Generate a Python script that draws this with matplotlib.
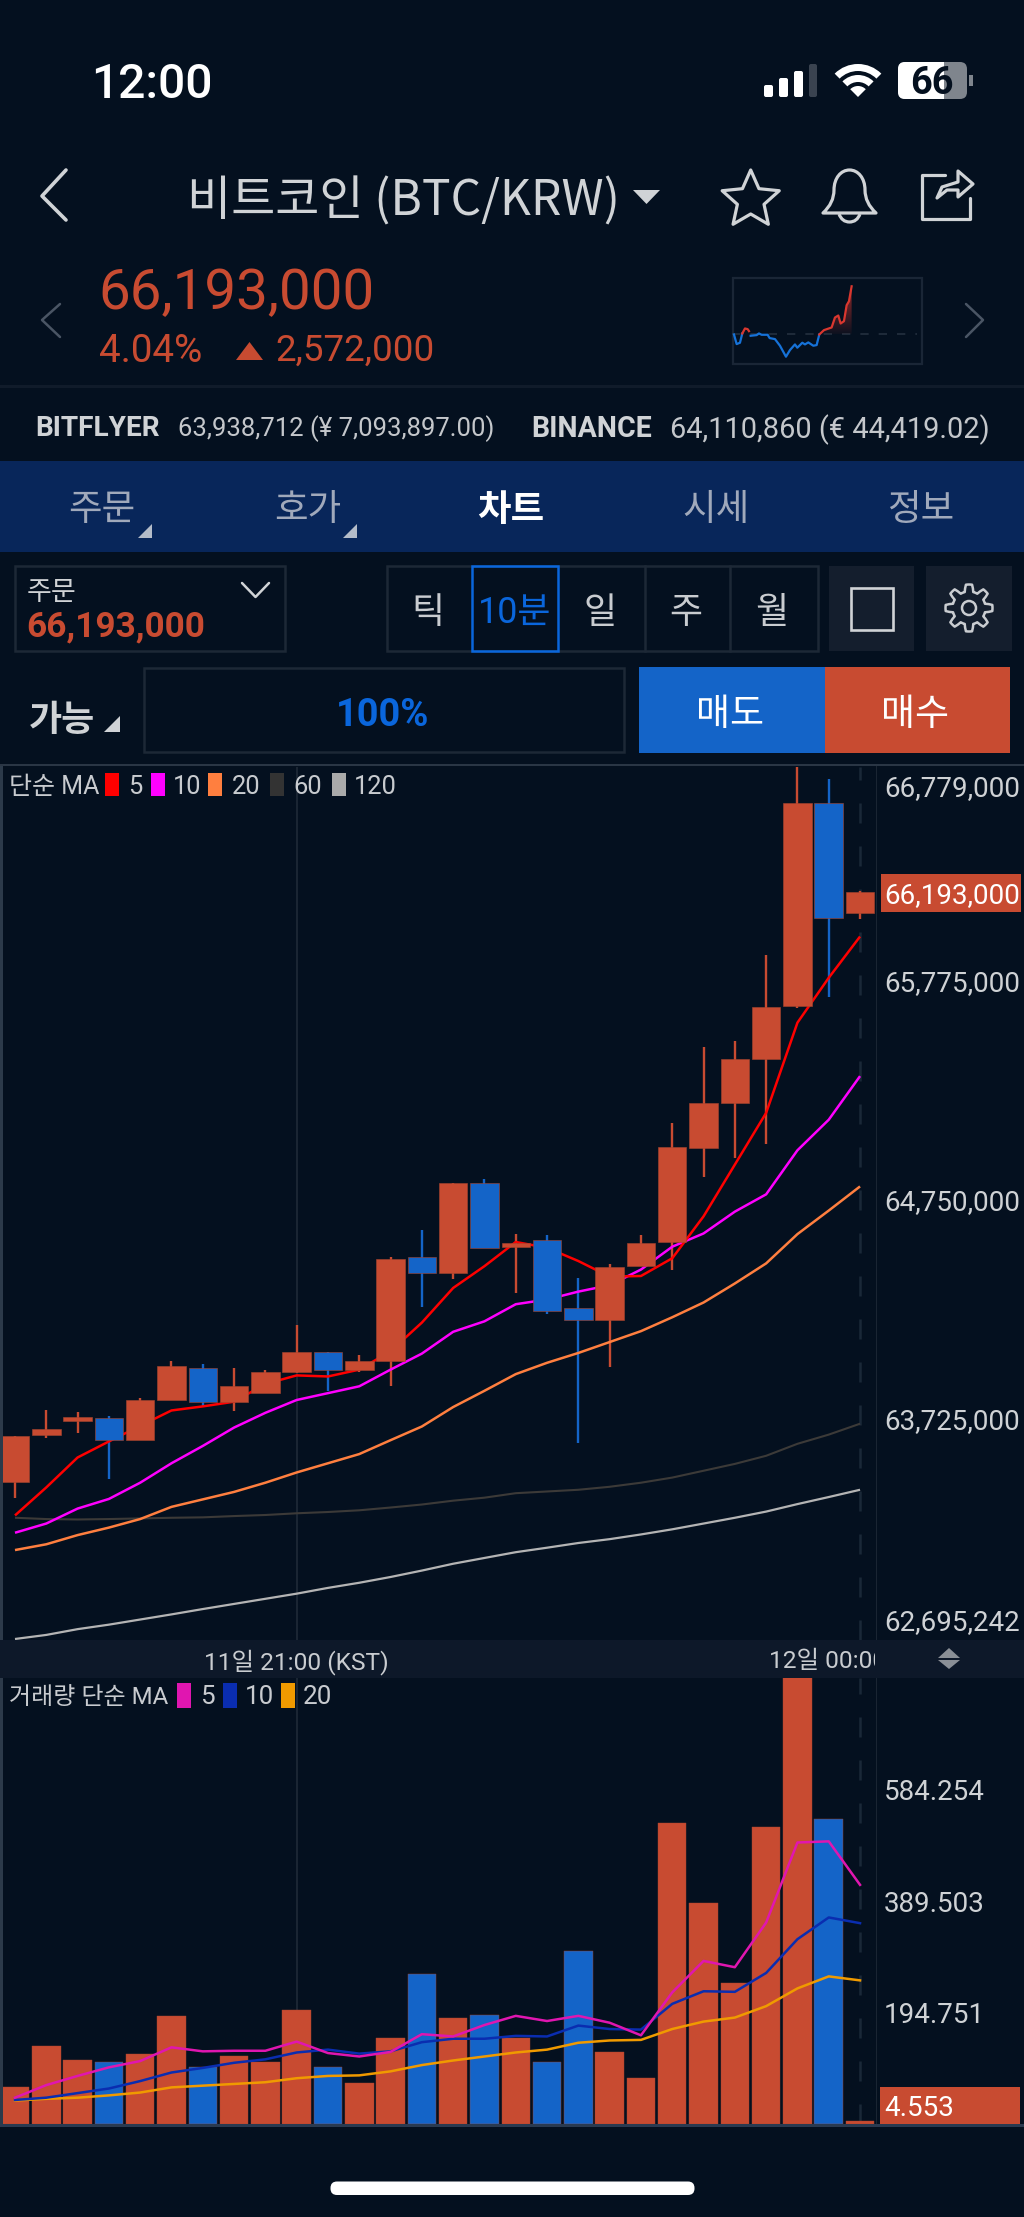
import numpy as np
import matplotlib
matplotlib.use("Agg")
import matplotlib.pyplot as plt
from matplotlib.patches import Rectangle, Polygon, Circle, Wedge, FancyBboxPatch, PathPatch
from matplotlib.path import Path
from matplotlib.transforms import Bbox

W, H = 1024, 2217
BG = "#04101f"
RED = "#c84b31"
BLUE = "#1464c8"
FONT = ["Roboto", "Noto Sans CJK KR", "DejaVu Sans"]
KFONT = ["Noto Sans CJK KR", "DejaVu Sans"]

# prices in thousands of won, one entry per 10 minute candle
opens = [63436, 63654, 63721, 63734, 63632, 63820, 63968, 63807, 63853, 63949,
         64043, 63960, 64000, 64487, 64414, 64833, 64532, 64565, 64248, 64194,
         64444, 64557, 64995, 65207, 65414, 65661, 66612, 66094]
closes = [63648, 63681, 63737, 63632, 63818, 63979, 63807, 63882, 63947, 64043,
          63960, 64000, 64479, 64414, 64833, 64530, 64554, 64234, 64194, 64441,
          64554, 65000, 65207, 65411, 65658, 66612, 66072, 66193]
highs = [63648, 63772, 63764, 63742, 63826, 64000, 63987, 63968, 63960, 64170,
         64043, 64027, 64489, 64613, 64833, 64852, 64594, 64591, 64390, 64454,
         64589, 65113, 65470, 65497, 65900, 66900, 66722, 66201]
lows = [63361, 63638, 63664, 63449, 63632, 63820, 63791, 63767, 63853, 63944,
        63858, 63949, 63885, 64253, 64382, 64530, 64317, 64221, 63619, 63971,
        64444, 64428, 64863, 64952, 65016, 65653, 65701, 66069]

ma5 = [63278, 63409, 63549, 63624, 63697, 63769, 63788, 63810, 63893, 63933,
       63928, 63960, 64046, 64180, 64342, 64444, 64557, 64530, 64468, 64395,
       64398, 64481, 64677, 64919, 65161, 65583, 65793, 65986]
ma10 = [63197, 63240, 63310, 63355, 63431, 63522, 63603, 63689, 63758, 63818,
        63850, 63882, 63960, 64035, 64137, 64186, 64266, 64288, 64325, 64355,
        64428, 64535, 64597, 64699, 64780, 64986, 65129, 65333]
ma20 = [63116, 63143, 63186, 63221, 63261, 63318, 63353, 63388, 63431, 63479,
        63522, 63565, 63630, 63694, 63785, 63861, 63939, 63992, 64038, 64089,
        64140, 64205, 64274, 64363, 64457, 64594, 64704, 64817]
ma60 = [63267, 63261, 63259, 63261, 63264, 63267, 63269, 63275, 63280, 63288,
        63294, 63302, 63315, 63329, 63347, 63361, 63382, 63390, 63398, 63412,
        63431, 63455, 63487, 63519, 63557, 63613, 63656, 63707]
ma120 = [62700, 62719, 62746, 62767, 62791, 62815, 62840, 62864, 62888, 62912,
         62939, 62963, 62990, 63020, 63052, 63079, 63106, 63127, 63149, 63167,
         63189, 63213, 63240, 63267, 63296, 63331, 63364, 63398]

volumes = [64, 137, 111, 108, 122, 189, 100, 118, 108, 199, 99, 71, 151, 262,
           186, 190, 150, 109, 303, 125, 81, 526, 387, 247, 519, 800, 533, 4.553]
vol_ma5 = [46, 68, 84, 99, 110, 134, 127, 128, 128, 144, 124, 118, 126, 157,
           153, 173, 189, 180, 189, 177, 155, 230, 285, 274, 352, 492, 494, 418]
vol_ma10 = [42, 46, 54, 62, 75, 90, 98, 107, 113, 125, 130, 123, 127, 143,
            149, 149, 154, 153, 172, 166, 165, 210, 232, 231, 264, 323, 361, 351]
vol_ma20 = [41, 44, 46, 50, 55, 64, 67, 70, 73, 80, 84, 85, 92, 103,
            111, 118, 125, 130, 142, 146, 147, 166, 179, 186, 206, 237, 258, 251]

price_ticks = [66779, 65775, 64750, 63725, 62695.242]
price_tick_labels = ["66,779,000", "65,775,000", "64,750,000", "63,725,000", "62,695,242"]
vol_ticks = [584.254, 389.503, 194.751]
vol_tick_labels = ["584.254", "389.503", "194.751"]

# small overview line, change against the previous close
mini_t = [27, 35, 45, 52, 60, 68, 72, 77, 95, 102, 110, 128, 134, 150, 165, 183, 195,
          210, 217, 232, 240, 250, 265, 275, 283, 297, 320, 330, 340, 347, 357, 365, 372, 380]
mini_change = [0, -29, -25, 3, 18, 16, 10, -4, -2, 3, -1, -1, -11, -14, -34, -67, -47,
               -30, -40, -25, -30, -24, -34, -32, 0, 13, 21, 51, 57, 33, 40, 88, 100, 145]


def px_axes(x0, y0, x1, y1, z):
    ax = fig.add_axes([x0 / W, 1 - y1 / H, (x1 - x0) / W, (y1 - y0) / H], zorder=z)
    ax.patch.set_alpha(0)
    return ax


def label(x, y, s, size, color="#d0d3d6", ha="center", weight="normal", family=FONT, **kw):
    return ui.text(x, y, s, fontsize=size * 0.72, color=color, ha=ha, va="center_baseline",
                   fontweight=weight, family=family, zorder=5, **kw)


def rect(x0, y0, x1, y1, color, z=1, **kw):
    ui.add_patch(Rectangle((x0, y0), x1 - x0, y1 - y0, facecolor=color, edgecolor="none", zorder=z, **kw))


def box(x0, y0, x1, y1, color, lw=2.0, fill="none"):
    ui.add_patch(Rectangle((x0, y0), x1 - x0, y1 - y0, facecolor=fill, edgecolor=color, lw=lw, zorder=2))


def tri(points, color):
    ui.add_patch(Polygon(points, closed=True, facecolor=color, edgecolor="none", zorder=3))


def stroke(points, color="#d0d3d6", lw=2.2):
    xs, ys = zip(*points)
    ui.plot(xs, ys, color=color, lw=lw, solid_capstyle="round", solid_joinstyle="round", zorder=4)


fig = plt.figure(figsize=(W / 100, H / 100), dpi=100, facecolor=BG)
ui = fig.add_axes([0, 0, 1, 1], zorder=10)
ui.set_xlim(0, W)
ui.set_ylim(H, 0)
ui.axis("off")

x = np.arange(len(opens))
colors = [RED if c >= o else BLUE for o, c in zip(opens, closes)]
colors[3] = colors[6] = BLUE
xlim = (-0.383, 27.51)

# price panel
ax = px_axes(3, 767, 876, 1640, 1)
ax.set_xlim(*xlim)
ax.set_ylim(62695.242, 66779)
ax.axis("off")
ax.axvline(9, color="#1a2533", lw=1.5, zorder=0)
ax.axvline(27, color="#1a2838", lw=1.8, ls=(0, (8, 9.2)), zorder=0)
ax.vlines(x, lows, highs, colors=colors, lw=1.7, zorder=1)
ma_styles = [(ma120, "#b4b4b4", 1.6), (ma60, "#3c3a38", 1.5), (ma20, "#ff7f3f", 1.8),
             (ma10, "#ff00ff", 1.8), (ma5, "#ff0000", 1.8)]
for series, c, lw in ma_styles:
    ax.plot(x, series, color=c, lw=lw, zorder=2, solid_capstyle="butt")
bottoms = np.minimum(opens, closes)
heights = np.abs(np.array(closes) - np.array(opens))
ax.bar(x, heights, bottom=bottoms, width=0.91, color=colors, edgecolor="#a8452f", lw=0.4, zorder=3)
nudges = [-19, 1, 1, 1, 20]
for v, s, n in zip(price_ticks, price_tick_labels, nudges):
    ax.annotate(s, (1, v), xycoords=("axes fraction", "data"), xytext=(8, n), textcoords="offset pixels",
                fontsize=27.8 * 0.72, color="#cfd2d5", family=FONT, va="center_baseline", annotation_clip=False)

# volume panel
vx = px_axes(3, 1678, 876, 2124, 1)
vx.set_xlim(*xlim)
vx.set_ylim(0, 779.5)
vx.axis("off")
vx.axvline(9, color="#1a2533", lw=1.5, zorder=0)
vx.axvline(27, color="#1a2838", lw=1.8, ls=(0, (8, 9.2)), zorder=0)
vx.bar(x, volumes, width=0.91, color=colors, edgecolor="#a8452f", lw=0.3, zorder=1)
vx.plot(x, vol_ma20, color="#f09a00", lw=1.8, zorder=2)
vx.plot(x, vol_ma10, color="#0a2db0", lw=1.8, zorder=3)
vx.plot(x, vol_ma5, color="#e016b0", lw=1.8, zorder=4)
for v, s in zip(vol_ticks, vol_tick_labels):
    vx.annotate(s, (1, v), xycoords=("axes fraction", "data"), xytext=(8, 0), textcoords="offset pixels",
                fontsize=27.8 * 0.72, color="#cfd2d5", family=FONT, va="center_baseline", annotation_clip=False)

# status bar
label(152, 80, "12:00", 48, "white", weight="medium")
for x0, y0 in [(764, 85), (779, 78), (794, 71)]:
    ui.add_patch(FancyBboxPatch((x0 + 2, y0 + 2), 5, 97 - y0 - 4, boxstyle="round,pad=2", fc="white", ec="none", zorder=3))
ui.add_patch(FancyBboxPatch((811, 66), 4, 29, boxstyle="round,pad=2", fc="#3a4350", ec="none", zorder=3))
for r, wd in [(33, 7), (22, 7), (11, 11)]:
    ui.add_patch(Wedge((858, 97), r, 225, 315, width=wd, fc="white", ec="none", zorder=3))
ui.add_patch(FancyBboxPatch((905, 69), 55, 23, boxstyle="round,pad=7", fc="#7f858d", ec="none", zorder=3))
white_part = FancyBboxPatch((905, 69), 55, 23, boxstyle="round,pad=7", fc="white", ec="none", zorder=3)
ui.add_patch(white_part)
white_part.set_clip_path(Rectangle((898, 60), 46, 42, transform=ui.transData))
rect(969, 75, 973, 86, "#7f858d")
label(932, 80, "66", 38, BG, weight="bold")

# header
stroke([(66, 170), (42, 196), (66, 220)], lw=2.6)
label(403, 196, "비트코인 (BTC/KRW)", 48, "#d0d3d6", family=KFONT)
tri([(633, 190), (660, 190), (646.5, 204)], "#d0d3d6")

angles = np.deg2rad(np.arange(0, 360, 36) - 90)
radii = np.where(np.arange(10) % 2 == 0, 30, 14)
star = np.c_[750.7 + radii * np.cos(angles), 200 + radii * np.sin(angles)]
ui.add_patch(Polygon(star, closed=True, fc="none", ec="#d0d3d6", lw=2.3, joinstyle="round", zorder=4))

bell = Path([(823, 213), (834, 203), (834, 190), (834, 190), (834, 178), (841, 170), (849.5, 170),
             (858, 170), (865, 178), (865, 190), (865, 190), (865, 203), (876, 213), (823, 213)],
            [Path.MOVETO, Path.CURVE3, Path.CURVE3, Path.LINETO, Path.CURVE4, Path.CURVE4, Path.CURVE4,
             Path.CURVE4, Path.CURVE4, Path.CURVE4, Path.LINETO, Path.CURVE3, Path.CURVE3, Path.CLOSEPOLY])
ui.add_patch(PathPatch(bell, fc="none", ec="#d0d3d6", lw=2.3, joinstyle="round", zorder=4))
clap = Path([(839, 214), (842, 222), (849.5, 222), (857, 222), (860, 214)],
            [Path.MOVETO, Path.CURVE3, Path.CURVE3, Path.CURVE3, Path.CURVE3])
ui.add_patch(PathPatch(clap, fc="none", ec="#d0d3d6", lw=2.3, zorder=4))

stroke([(945, 175), (922, 175), (922, 219), (970, 219), (970, 198)], lw=2.3)
ui.add_patch(Polygon([(937, 198), (942, 187), (958, 182), (958, 171), (973, 184), (958, 197), (958, 190), (947, 190)],
                     closed=True, fc="none", ec="#d0d3d6", lw=2.3, joinstyle="round", zorder=4))

# quote row
label(98, 288, "66,193,000", 56.5, RED, ha="left")
label(99, 347, "4.04%", 38.5, RED, ha="left")
tri([(236, 360), (263, 360), (249.5, 342)], RED)
label(275, 347, "2,572,000", 36.8, RED, ha="left")
stroke([(60, 304), (42, 320), (60, 337)], "#4a5564", 1.8)
stroke([(966, 304), (983, 320), (966, 337)], "#4a5564", 1.8)
box(733, 278, 922, 364, "#1a2636", 1.6)

mv = px_axes(732.3, 278, 922.3, 364, 11)
mv.set_xlim(22, 592)
mv.set_ylim(-89, 170)
mv.axis("off")
mini_t = np.array(mini_t)
mini_change = np.array(mini_change)
mv.plot([22, 575], [0, 0], color="#24303f", lw=1.2, ls=(0, (5, 6)), zorder=1)
grad = np.linspace(0.75, 0.05, 64).reshape(-1, 1)
rgba = np.zeros((64, 1, 4))
rgba[..., 0], rgba[..., 1], rgba[..., 2] = 0.8, 0.2, 0.18
rgba[..., 3] = grad[:, 0].reshape(-1, 1)
im = mv.imshow(rgba, extent=(283, 380, 0, 145), aspect="auto", zorder=1)
mv.set_xlim(22, 592)
mv.set_ylim(-89, 170)
tail = mini_t >= 283
area = Polygon(np.r_[np.c_[mini_t[tail], mini_change[tail]], [[380, 0], [283, 0]]], closed=True,
               transform=mv.transData)
im.set_clip_path(area)
pos = np.ma.masked_where(mini_change < 0, mini_change)
neg = np.ma.masked_where(mini_change > 3, mini_change)
mv.plot(mini_t, neg, color="#1672d8", lw=1.6, zorder=2)
mv.plot(mini_t, pos, color="#d9372f", lw=1.6, zorder=3)

rect(0, 385, W, 388, "#101b2a")
label(35, 426, "BITFLYER", 28, "#d0d3d6", ha="left", weight="bold")
label(178, 426, "63,938,712 (¥ 7,093,897.00)", 25.6, "#c4c7cb", ha="left")
label(531, 426, "BINANCE", 28.5, "#d0d3d6", ha="left", weight="bold")
label(670, 426, "64,110,860 (€ 44,419.02)", 29, "#c4c7cb", ha="left")

# tabs
rect(0, 461, W, 552, "#08265a")
tab_names = ["주문", "호가", "차트", "시세", "정보"]
tab_x = [102, 308, 511, 716, 921]
for name, tx in zip(tab_names, tab_x):
    on = name == "차트"
    label(tx, 506, name, 36.5, "white" if on else "#a0a9bb", weight="bold" if on else "normal", family=KFONT)
tri([(152, 524), (152, 538), (138, 538)], "#b4bcc9")
tri([(357, 524), (357, 538), (343, 538)], "#b4bcc9")

# order controls
box(15, 566, 285, 651, "#1d2836", 1.8)
label(27, 590, "주문", 27, "#d0d3d6", ha="left", family=KFONT)
label(26, 623, "66,193,000", 35.3, RED, ha="left", weight="bold")
stroke([(242, 583), (255.5, 597), (269, 583)], lw=1.8)

box(387, 566, 818, 651, "#1d2836", 1.8)
for sx in [645, 730]:
    ui.plot([sx, sx], [566, 651], color="#1d2836", lw=1.8, zorder=2)
box(472, 566, 558, 651, "#0a66dc", 1.8)
seg_names = ["틱", "10분", "일", "주", "월"]
seg_x = [428, 515, 600, 686, 772]
for name, sx in zip(seg_names, seg_x):
    label(sx, 609, name, 36, "#0a66dc" if name == "10분" else "#c9ccd0", family=FONT)
rect(829, 566, 914, 651, "#141e2d")
rect(926, 566, 1012, 651, "#141e2d")
box(851, 588, 893, 630, "#d0d3d6", 1.9)

theta = np.linspace(0, 2 * np.pi, 97)[:-1]
teeth = 20 + 3.5 * np.clip(3 * np.cos(8 * theta), -1, 1)
gear = np.c_[969 + teeth * np.cos(theta), 608 + teeth * np.sin(theta)]
ui.add_patch(Polygon(gear, closed=True, fc="none", ec="#c9ccd0", lw=1.8, joinstyle="round", zorder=4))
ui.add_patch(Circle((969, 608), 7, fc="none", ec="#c9ccd0", lw=1.8, zorder=4))

label(29, 716, "가능", 36, "#d0d3d6", ha="left", weight="bold", family=KFONT)
tri([(120, 716), (120, 732), (104, 732)], "#d0d3d6")
box(144, 668, 624, 752, "#1d2836", 1.8)
label(383, 711, "100%", 38, "#0a66dc", weight="bold")
rect(639, 667, 825, 753, BLUE)
rect(825, 667, 1010, 753, RED)
label(730, 710, "매도", 37, "white", family=KFONT)
label(915, 710, "매수", 37, "white", family=KFONT)

# chart frame
rect(0, 764, W, 766, "#2a3645")
rect(0, 766, 3, 2124, "#2c3a4a")
rect(875.5, 766, 877, 2124, "#1a2533")
rect(0, 1640, W, 1678, "#0d1829")
rect(0, 2124, W, 2127, "#2a3a50")

swatches = [(105, "#ff0000"), (151, "#ff00ff"), (208, "#ff7f3f"), (270, "#333333"), (332, "#aaaaaa")]
for sx, c in swatches:
    rect(sx, 773, sx + 14, 796, c, z=3)
label(9, 784, "단순 MA", 25, "#c8cbcf", ha="left")
for lx, s in [(128, "5"), (173, "10"), (232, "20"), (293, "60"), (354, "120")]:
    label(lx, 784, s, 25.5, "#c8cbcf", ha="left")

rect(881, 874, 1021, 911.5, RED, z=3)
label(884, 893, "66,193,000", 27.8, "white", ha="left")

label(9, 1695, "거래량 단순 MA", 24, "#c8cbcf", ha="left")
for sx, c in [(177, "#e016b0"), (223, "#0a2db0"), (281, "#f09a00")]:
    rect(sx, 1683, sx + 14, 1708, c, z=3)
for lx, s in [(200, "5"), (245, "10"), (303, "20")]:
    label(lx, 1695, s, 26, "#c8cbcf", ha="left")

label(296, 1659, "11일 21:00 (KST)", 24.5, "#c9ccd0")
tlabel = label(769, 1659, "12일 00:00", 24.5, "#c9ccd0", ha="left")
tlabel.set_clip_box(Bbox([[0, H - 1678], [875, H - 1640]]))
tlabel.set_clip_on(True)
tri([(938, 1658), (960, 1658), (949, 1648)], "#8a8f96")
tri([(938, 1660), (960, 1660), (949, 1669)], "#8a8f96")

rect(880, 2087, 1020, 2124, RED, z=3)
label(884, 2106, "4.553", 27.8, "white", ha="left")

ui.add_patch(FancyBboxPatch((337, 2188), 351, 0.5, boxstyle="round,pad=6.5", fc="white", ec="none", zorder=3))

fig.savefig("out.png", dpi=100, facecolor=BG)
